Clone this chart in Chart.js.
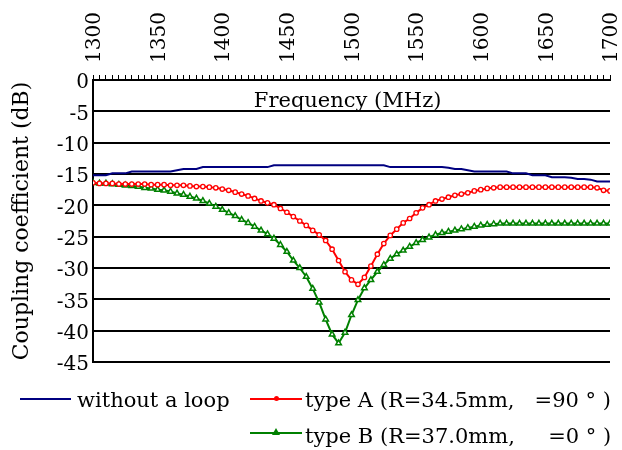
<!DOCTYPE html>
<html>
<head>
<meta charset="utf-8">
<script src="https://cdn.jsdelivr.net/npm/chart.js@4.4.1/dist/chart.umd.min.js"></script>
<style>
  html, body { margin:0; padding:0; background:#fff; }
  #wrap { position:relative; width:622px; height:450px; }
  #legend { position:absolute; left:0; top:0; width:622px; height:450px; pointer-events:none;
            font-family:"DejaVu Serif", serif; font-size:21px; color:#000; }
  .lg-line { position:absolute; height:2px; }
  .lg-mark { position:absolute; }
  .lg-text { position:absolute; white-space:pre; line-height:26px; }
</style>
</head>
<body>
<div id="wrap">
  <canvas id="chart" width="622" height="450"></canvas>
  <div id="legend"></div>
</div>
<script>
// frequency (MHz), 5 MHz steps
const freqs = [
  1300,1305,1310,1315,1320,1325,1330,1335,1340,1345,
  1350,1355,1360,1365,1370,1375,1380,1385,1390,1395,
  1400,1405,1410,1415,1420,1425,1430,1435,1440,1445,
  1450,1455,1460,1465,1470,1475,1480,1485,1490,1495,
  1500,1505,1510,1515,1520,1525,1530,1535,1540,1545,
  1550,1555,1560,1565,1570,1575,1580,1585,1590,1595,
  1600,1605,1610,1615,1620,1625,1630,1635,1640,1645,
  1650,1655,1660,1665,1670,1675,1680,1685,1690,1695,
  1700
];
// coupling coefficient (dB)
const noLoop = [
  -15.2,-15.2,-15.2,-14.9,-14.9,-14.9,-14.6,-14.6,-14.6,-14.6,
  -14.6,-14.6,-14.6,-14.4,-14.2,-14.2,-14.2,-13.9,-13.9,-13.9,
  -13.9,-13.9,-13.9,-13.9,-13.9,-13.9,-13.9,-13.9,-13.6,-13.6,
  -13.6,-13.6,-13.6,-13.6,-13.6,-13.6,-13.6,-13.6,-13.6,-13.6,
  -13.6,-13.6,-13.6,-13.6,-13.6,-13.6,-13.9,-13.9,-13.9,-13.9,
  -13.9,-13.9,-13.9,-13.9,-13.9,-14.0,-14.2,-14.2,-14.4,-14.6,
  -14.6,-14.6,-14.6,-14.6,-14.6,-14.9,-14.9,-14.9,-15.2,-15.2,
  -15.2,-15.5,-15.5,-15.5,-15.6,-15.8,-15.8,-15.9,-16.2,-16.2,
  -16.2
];
const typeA = [
  -16.4,-16.5,-16.5,-16.5,-16.6,-16.6,-16.6,-16.6,-16.6,-16.7,
  -16.7,-16.7,-16.8,-16.8,-16.8,-16.9,-17.0,-17.0,-17.1,-17.2,
  -17.4,-17.6,-17.9,-18.2,-18.5,-18.9,-19.3,-19.6,-19.9,-20.5,
  -21.1,-21.8,-22.5,-23.2,-24.0,-24.7,-25.6,-27.0,-28.8,-30.6,
  -31.9,-32.6,-31.5,-29.7,-27.8,-26.1,-24.8,-23.8,-22.8,-22.1,
  -21.2,-20.4,-19.9,-19.3,-19.0,-18.7,-18.4,-18.2,-18.0,-17.7,
  -17.5,-17.3,-17.2,-17.1,-17.1,-17.1,-17.1,-17.1,-17.1,-17.1,
  -17.1,-17.1,-17.1,-17.1,-17.1,-17.1,-17.1,-17.1,-17.2,-17.6,
  -17.7
];
const typeB = [
  -16.4,-16.5,-16.5,-16.6,-16.7,-16.8,-16.9,-17.0,-17.2,-17.3,
  -17.5,-17.6,-17.8,-18.1,-18.3,-18.6,-18.9,-19.3,-19.7,-20.2,
  -20.7,-21.2,-21.7,-22.3,-22.8,-23.4,-24.0,-24.6,-25.3,-26.3,
  -27.4,-28.8,-30.0,-31.4,-33.3,-35.5,-38.2,-40.6,-42.0,-40.3,
  -37.5,-35.1,-33.2,-31.9,-30.6,-29.5,-28.5,-27.8,-27.2,-26.6,
  -26.0,-25.5,-25.1,-24.7,-24.4,-24.2,-24.0,-23.8,-23.6,-23.4,
  -23.2,-23.1,-23.0,-22.9,-22.9,-22.9,-22.9,-22.9,-22.9,-22.9,
  -22.9,-22.9,-22.9,-22.9,-22.9,-22.9,-22.9,-22.9,-22.9,-22.9,
  -22.9
];
const seriesNames = ['without a loop', 'type A (R=34.5mm,   =90 \u00b0 )', 'type B (R=37.0mm,     =0 \u00b0 )'];
const seriesColors = ['#000080', '#ff0000', '#008000'];
const xTickLabels = [1300,1350,1400,1450,1500,1550,1600,1650,1700];
const xTitle = 'Frequency (MHz)';
const yTitle = 'Coupling coefficient (dB)';

const FONT = '"DejaVu Serif", serif';
Chart.defaults.font.family = FONT;
Chart.defaults.color = '#000';

const pts = vals => freqs.map((f, i) => ({ x: f, y: vals[i] }));

// frequency title sits inside the plot, just under the 0 dB line
const innerTitle = {
  id: 'innerTitle',
  afterDraw(chart) {
    const { ctx, chartArea, scales } = chart;
    ctx.save();
    ctx.font = '21px ' + FONT;
    ctx.fillStyle = '#000';
    ctx.textAlign = 'center';
    ctx.textBaseline = 'alphabetic';
    ctx.fillText(xTitle, scales.x.getPixelForValue(1497), chartArea.top + 27);
    ctx.restore();
  }
};

new Chart(document.getElementById('chart'), {
  type: 'line',
  data: {
    datasets: [
      { label: seriesNames[0], data: pts(noLoop), borderColor: seriesColors[0], borderWidth: 2,
        pointRadius: 0, tension: 0 },
      { label: seriesNames[1], data: pts(typeA), borderColor: seriesColors[1], borderWidth: 2,
        pointStyle: 'circle', pointRadius: 2.2, pointBorderWidth: 1.3,
        pointBackgroundColor: '#fff', pointBorderColor: seriesColors[1], tension: 0 },
      { label: seriesNames[2], data: pts(typeB), borderColor: seriesColors[2], borderWidth: 2,
        pointStyle: 'triangle', pointRadius: 3.2, pointBorderWidth: 1.5,
        pointBackgroundColor: '#fff', pointBorderColor: seriesColors[2], tension: 0 }
    ]
  },
  options: {
    responsive: false,
    animation: false,
    devicePixelRatio: 1,
    layout: { padding: { left: 0, right: 12, top: 0, bottom: 88 } },
    plugins: { legend: { display: false }, tooltip: { enabled: false } },
    scales: {
      x: {
        type: 'linear', position: 'top', min: 1300, max: 1700,
        afterFit: s => { s.height = 80; },
        border: { color: '#000', width: 2 },
        grid: { drawOnChartArea: false, drawTicks: true, tickLength: 5, color: '#000', lineWidth: 1 },
        ticks: {
          stepSize: 5, autoSkip: false, minRotation: 90, maxRotation: 90, padding: 12, labelOffset: 26,
          font: { size: 20 }, color: '#000',
          callback: v => xTickLabels.includes(v) ? String(v) : ''
        }
      },
      y: {
        min: -45, max: 0,
        afterFit: s => { s.width = 93; },
        border: { color: '#000', width: 2 },
        grid: { color: '#000', lineWidth: 2, drawTicks: false },
        ticks: { stepSize: 5, padding: 4, labelOffset: 3, font: { size: 20 }, color: '#000' },
        title: { display: true, text: yTitle, font: { size: 22 }, color: '#000', padding: { top: 9, bottom: 0 } }
      }
    }
  },
  plugins: [innerTitle]
});

// legend laid out like the original figure
const legendItems = [
  { x1: 20, x2: 71, y: 399, tx: 77, ty: 400, mark: null },
  { x1: 250, x2: 302, y: 399, tx: 305, ty: 400, mark: 'dot' },
  { x1: 250, x2: 302, y: 433, tx: 305, ty: 436, mark: 'tri' }
];
const lg = document.getElementById('legend');
legendItems.forEach((it, i) => {
  const line = document.createElement('div');
  line.className = 'lg-line';
  line.style.cssText = `left:${it.x1}px;top:${it.y - 1}px;width:${it.x2 - it.x1}px;background:${seriesColors[i]}`;
  lg.appendChild(line);
  if (it.mark) {
    const m = document.createElement('div');
    m.className = 'lg-mark';
    const cx = Math.round((it.x1 + it.x2) / 2);
    if (it.mark === 'dot') {
      m.style.cssText = `left:${cx - 2}px;top:${it.y - 3}px;width:5px;height:5px;border-radius:50%;background:${seriesColors[i]}`;
    } else {
      m.style.cssText = `left:${cx - 4}px;top:${it.y - 5}px;width:0;height:0;border-left:4px solid transparent;border-right:4px solid transparent;border-bottom:7px solid ${seriesColors[i]}`;
    }
    lg.appendChild(m);
  }
  const t = document.createElement('div');
  t.className = 'lg-text';
  t.style.left = it.tx + 'px';
  t.style.top = (it.ty - 13) + 'px';
  t.textContent = seriesNames[i];
  lg.appendChild(t);
});
</script>
</body>
</html>
